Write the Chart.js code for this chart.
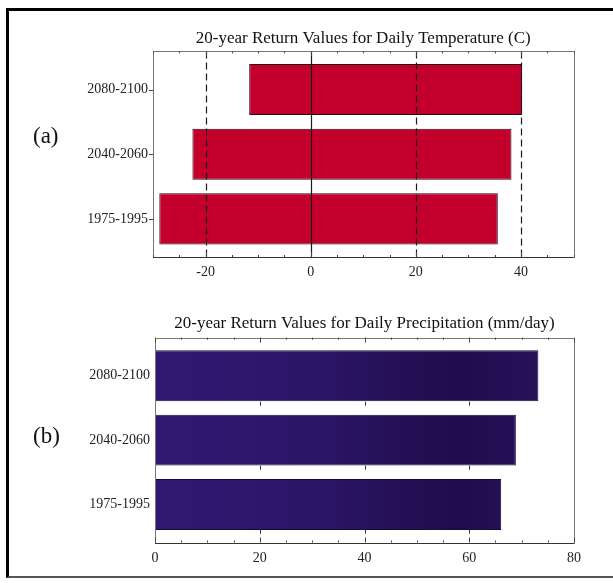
<!DOCTYPE html>
<html>
<head>
<meta charset="utf-8">
<script src="https://cdn.jsdelivr.net/npm/chart.js@4.4.1/dist/chart.umd.min.js"></script>
<style>
  html, body { margin: 0; padding: 0; background: #fff; }
  body { width: 613px; height: 583px; position: relative; overflow: hidden; font-family: 'Liberation Serif', 'DejaVu Serif', serif; }
  .frame { position: absolute; left: 6px; top: 8px; width: 607px; height: 570px; box-sizing: border-box;
           border-left: 3px solid #000; border-top: 3px solid #000; border-bottom: 2px solid #555; }
  .panel { position: absolute; left: 0; width: 613px; }
  .panel canvas { display: block; }
  .tag { position: absolute; left: 33px; font-size: 23px; line-height: 1; color: #111; }
</style>
</head>
<body>
<div class="frame"></div>
<div class="panel" style="top:0"><canvas id="tempChart" width="613" height="290"></canvas></div>
<div class="panel" style="top:290px"><canvas id="precipChart" width="613" height="293"></canvas></div>
<div class="tag" style="top:124px">(a)</div>
<div class="tag" style="top:424px">(b)</div>

<script>
// data
const periods = ['2080-2100', '2040-2060', '1975-1995'];
const tempLow = [-11.7, -22.5, -28.8];
const tempHigh = [40.2, 38.2, 35.6];
const precipHigh = [73.2, 68.9, 66.1];
const tempTicks = [-20, 0, 20, 40];
const precipTicks = [0, 20, 40, 60, 80];

const FONT = "'Liberation Serif', 'DejaVu Serif', serif";
const slot = i => periods.length - i;          // top row = highest slot
const slots = periods.map((p, i) => slot(i));

/* Mathematica-style frame: box, minor/major ticks, dashed grid */
const plotFrame = {
  id: 'plotFrame',
  beforeDatasetsDraw(chart, args, o) { if (!o.gridOnTop) drawGrid(chart, o); },
  afterDatasetsDraw(chart, args, o) {
    if (o.gridOnTop) drawGrid(chart, o);
    drawBox(chart, o);
  }
};

function drawGrid(chart, o) {
  const { ctx, chartArea: a } = chart;
  const xs = chart.scales.x;
  ctx.save();
  ctx.strokeStyle = o.gridColor;
  ctx.lineWidth = o.gridWidth;
  o.grid.forEach(v => {
    const x = Math.round(xs.getPixelForValue(v)) + 0.5;
    ctx.setLineDash(v === 0 && o.solidZero ? [] : o.dash);
    ctx.beginPath();
    ctx.moveTo(x, a.top);
    ctx.lineTo(x, a.bottom);
    ctx.stroke();
  });
  ctx.restore();
}

function drawBox(chart, o) {
  const { ctx, chartArea: a } = chart;
  const xs = chart.scales.x, ys = chart.scales.y;
  ctx.save();
  ctx.setLineDash([]);
  ctx.lineWidth = 1;
  ctx.strokeStyle = '#777';
  ctx.strokeRect(Math.round(a.left) + 0.5, Math.round(a.top) + 0.5, Math.round(a.width), Math.round(a.height));
  ctx.strokeStyle = '#333';
  ctx.beginPath();
  ctx.moveTo(a.left, Math.round(a.bottom) + 0.5);
  ctx.lineTo(a.right, Math.round(a.bottom) + 0.5);
  ctx.stroke();

  ctx.strokeStyle = '#444';
  for (let v = xs.min; v <= xs.max; v += o.minorStep) {
    const x = Math.round(xs.getPixelForValue(v)) + 0.5;
    const len = o.grid.includes(v) || o.major.includes(v) ? 5 : 2;
    ctx.beginPath();
    ctx.moveTo(x, a.top); ctx.lineTo(x, a.top + len);
    ctx.moveTo(x, a.bottom); ctx.lineTo(x, a.bottom - len);
    ctx.stroke();
  }
  if (o.leftTicks) {
    slots.forEach(v => {
      const y = Math.round(ys.getPixelForValue(v)) + 0.5;
      ctx.beginPath();
      ctx.moveTo(a.left - 4, y); ctx.lineTo(a.left, y);
      ctx.stroke();
    });
  }
  ctx.restore();
}

function purpleFill(ctx) {
  const { chart } = ctx;
  const a = chart.chartArea;
  if (!a) return '#2a1462';
  const g = chart.ctx.createLinearGradient(a.left, 0, a.right, 0);
  g.addColorStop(0, '#311973');
  g.addColorStop(0.4, '#2b1566');
  g.addColorStop(0.72, '#200c4c');
  g.addColorStop(1, '#2a1462');
  return g;
}

function buildChart(id, cfg) {
  return new Chart(document.getElementById(id), {
    type: 'bar',
    data: {
      datasets: [{
        data: cfg.data,
        backgroundColor: cfg.color,
        borderColor: cfg.border,
        borderWidth: 1,
        borderSkipped: false,
        barPercentage: 0.79,
        categoryPercentage: 1
      }]
    },
    plugins: [plotFrame],
    options: {
      indexAxis: 'y',
      responsive: false,
      animation: false,
      layout: { padding: { left: 0, right: cfg.padRight, top: 0, bottom: cfg.padBottom } },
      plugins: {
        legend: { display: false },
        tooltip: { enabled: false },
        title: {
          display: true, text: cfg.title, fullSize: false, color: '#111',
          font: { family: FONT, size: 17, weight: 'normal' },
          padding: cfg.titlePad
        },
        plotFrame: cfg.frame
      },
      scales: {
        x: {
          type: 'linear', min: cfg.min, max: cfg.max,
          afterBuildTicks: s => { s.ticks = cfg.ticks.map(v => ({ value: v })); },
          afterFit: s => { s.height = 30; },
          grid: { display: false, drawTicks: false },
          border: { display: false },
          ticks: { color: '#222', padding: 7, font: { family: FONT, size: 14 } }
        },
        y: {
          type: 'linear', min: 0.41, max: 3.59, offset: false,
          afterBuildTicks: s => { s.ticks = slots.map(v => ({ value: v })); },
          afterFit: s => { s.width = cfg.axisWidth; },
          grid: { display: false, drawTicks: false, offset: false },
          border: { display: false },
          ticks: {
            color: '#222', padding: cfg.labelPad, font: { family: FONT, size: 14 },
            callback: v => periods[periods.length - v]
          }
        }
      }
    }
  });
}

buildChart('tempChart', {
  title: '20-year Return Values for Daily Temperature (C)',
  titlePad: { top: 28, bottom: 3 },
  data: periods.map((p, i) => ({ x: [tempLow[i], tempHigh[i]], y: slot(i) })),
  color: '#c2002b', border: '#2a0810',
  min: -30, max: 50, ticks: tempTicks,
  padRight: 39.5, padBottom: 3, axisWidth: 153, labelPad: 5,
  frame: { grid: [-20, 0, 20, 40], solidZero: true, dash: [7, 4], gridColor: '#1a1a1a', gridWidth: 1.2,
           gridOnTop: true, minorStep: 5, major: tempTicks, leftTicks: true }
});

buildChart('precipChart', {
  title: '20-year Return Values for Daily Precipitation (mm/day)',
  titlePad: { top: 23, bottom: 4.3 },
  data: periods.map((p, i) => ({ x: [0, precipHigh[i]], y: slot(i) })),
  color: purpleFill, border: '#1a0a3a',
  min: 0, max: 80, ticks: precipTicks,
  padRight: 39, padBottom: 10.5, axisWidth: 155, labelPad: 5,
  frame: { grid: [20, 40, 60], solidZero: false, dash: [4, 12], gridColor: '#333', gridWidth: 1,
           gridOnTop: false, minorStep: 5, major: precipTicks, leftTicks: false }
});
</script>
</body>
</html>
